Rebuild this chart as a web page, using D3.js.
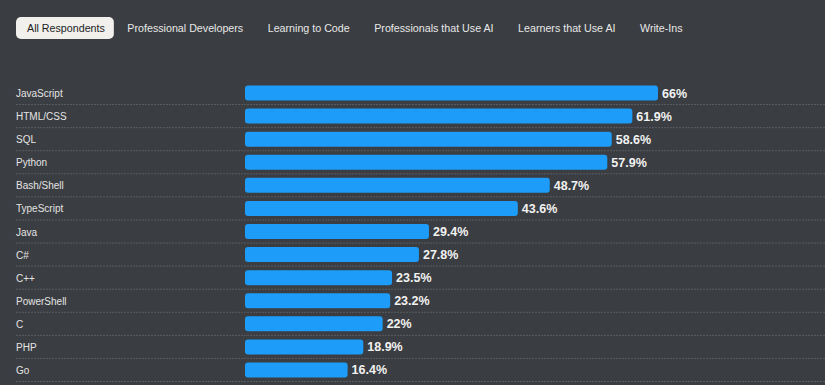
<!DOCTYPE html>
<html><head><meta charset="utf-8">
<script src="https://cdn.jsdelivr.net/npm/d3@7"></script>
<style>
html,body{margin:0;padding:0;background:#3a3d41;}
svg{display:block;}
</style></head>
<body>
<script>
const tabs = ["All Respondents","Professional Developers","Learning to Code","Professionals that Use AI","Learners that Use AI","Write-Ins"];
const languages = ["JavaScript","HTML/CSS","SQL","Python","Bash/Shell","TypeScript","Java","C#","C++","PowerShell","C","PHP","Go"];
const values = [66,61.9,58.6,57.9,48.7,43.6,29.4,27.8,23.5,23.2,22,18.9,16.4];

const W = 825, H = 385;
const font = "'Liberation Sans', Arial, Helvetica, sans-serif";
const svg = d3.select("body").append("svg").attr("width", W).attr("height", H);
svg.append("rect").attr("width", W).attr("height", H).attr("fill", "#3a3d41");

// tabs
const tabG = svg.append("g");
let tx = 27;
tabs.forEach((t, i) => {
  const txt = tabG.append("text").attr("x", tx).attr("y", 32)
    .attr("font-family", font).attr("font-size", 10.7)
    .attr("fill", i === 0 ? "#222222" : "#e8e8e8").text(t);
  const w = txt.node().getComputedTextLength();
  if (i === 0) {
    tabG.insert("rect", "text").attr("x", tx - 11).attr("y", 17).attr("width", w + 20).attr("height", 22)
      .attr("rx", 5).attr("fill", "#f1f0ec");
  }
  tx += w + (i === 0 ? 22.5 : 24.5);
});

const x = d3.scaleLinear().domain([0, 66]).range([245, 658]);
const y = d3.scaleBand().domain(languages).range([81.5, 381.5]).paddingInner(0).paddingOuter(0);
const bh = 15;

const rows = svg.append("g").selectAll("g").data(languages).join("g");
rows.append("line")
  .attr("x1", 16).attr("x2", W)
  .attr("y1", d => y(d) + y.bandwidth()).attr("y2", d => y(d) + y.bandwidth())
  .attr("stroke", "#5a5d62").attr("stroke-width", 1).attr("stroke-dasharray", "2,1");
rows.append("text").attr("x", 16).attr("y", d => y(d) + y.bandwidth()/2 + 4)
  .attr("font-family", font).attr("font-size", 10).attr("fill", "#e4e4e4").text(d => d);
rows.append("rect").attr("x", x(0)).attr("y", d => y(d) + y.bandwidth()/2 - bh/2)
  .attr("width", (d, i) => x(values[i]) - x(0)).attr("height", bh).attr("rx", 3)
  .attr("fill", "#1d9df9");
rows.append("text").attr("x", (d, i) => x(values[i]) + 4).attr("y", d => y(d) + y.bandwidth()/2 + 4.5)
  .attr("font-family", font).attr("font-size", 12.5).attr("font-weight", "bold")
  .attr("fill", "#f2f2f2").text((d, i) => values[i] + "%");
</script>
</body></html>
